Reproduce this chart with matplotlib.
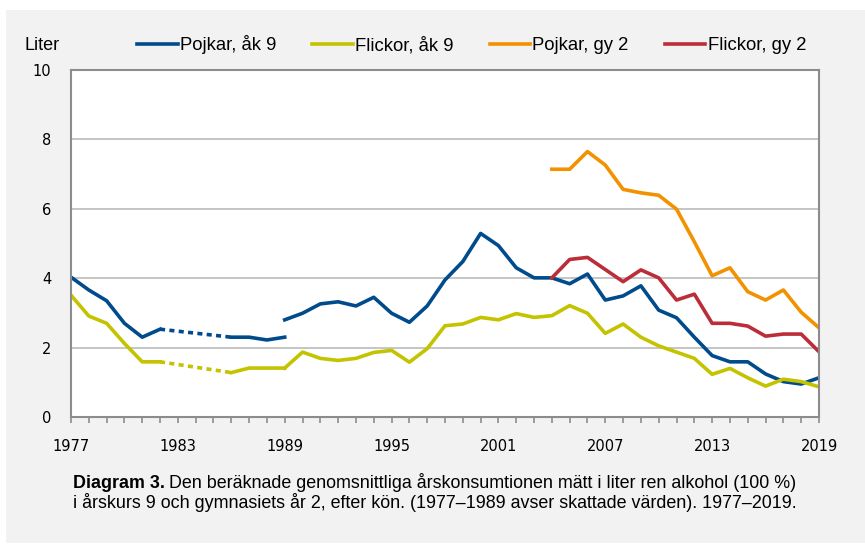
import numpy as np
import matplotlib
matplotlib.use('Agg')
import matplotlib.pyplot as plt
from matplotlib.patches import Rectangle

nan = np.nan

# === data (liter ren alkohol) ===
years_early = np.arange(1977, 1990)
boys9_early  = [4.03, 3.66, 3.35, 2.70, 2.30, 2.53, nan, nan, nan, 2.30, 2.30, 2.22, 2.30]
girls9_early = [3.51, 2.91, 2.70, 2.12, 1.59, 1.59, nan, nan, nan, 1.28, 1.41, 1.41, 1.41]

years_late = np.arange(1989, 2020)
boys9_late = [2.80, 2.99, 3.26, 3.32, 3.20, 3.45, 2.99, 2.73, 3.20, 3.95, 4.48, 5.29, 4.94, 4.30,
              4.01, 4.01, 3.84, 4.12, 3.37, 3.49, 3.78, 3.08, 2.86, 2.30, 1.77, 1.59, 1.59, 1.24,
              1.02, 0.95, 1.13]
girls9_late = [1.41, 1.87, 1.69, 1.63, 1.69, 1.86, 1.92, 1.58, 1.97, 2.63, 2.68, 2.87, 2.80, 2.98,
               2.87, 2.92, 3.21, 2.99, 2.41, 2.68, 2.30, 2.05, 1.87, 1.69, 1.23, 1.40, 1.13, 0.89,
               1.09, 1.02, 0.87]

years_gy2 = np.arange(2004, 2020)
boys_gy2  = [7.14, 7.14, 7.65, 7.26, 6.56, 6.46, 6.39, 5.99, 5.05, 4.07, 4.30, 3.61, 3.37, 3.66, 3.02, 2.57]
girls_gy2 = [4.01, 4.54, 4.60, 4.25, 3.90, 4.24, 4.01, 3.37, 3.54, 2.70, 2.70, 2.62, 2.33, 2.39, 2.39, 1.88]

labels = ['Pojkar, åk 9', 'Flickor, åk 9', 'Pojkar, gy 2', 'Flickor, gy 2']
xtick_years = np.arange(1977, 2020, 6)
ytick_vals = [0, 2, 4, 6, 8, 10]

c_blue = '#004b8c'
c_yell = '#c3c300'
c_orng = '#f39200'
c_red = '#bb2d38'
lw = 2.6
sans = ['Liberation Sans', 'DejaVu Sans']

# === figure ===
fig = plt.figure(figsize=(8.65, 5.48), dpi=100, facecolor='white')
fig.patches.append(Rectangle((6/865, 5/548), 1 - 6/865, 533/548, transform=fig.transFigure,
                             facecolor='#f2f2f2', edgecolor='none', zorder=-10))
ax = fig.add_axes([71/865, 131/548, 748/865, 347/548])
ax.set_facecolor('white')

# dotted gap (estimated years) between 1982 and 1986
e = np.array(years_early)
b = np.array(boys9_early)
g = np.array(girls9_early)
gap = [5, 9]
ax.plot(e[gap], b[gap], color=c_blue, lw=lw, dashes=(1.4, 1.2), solid_capstyle='butt')
ax.plot(e[gap], g[gap], color=c_yell, lw=lw, dashes=(1.4, 1.2), solid_capstyle='butt')

l1, = ax.plot(years_early, boys9_early, color=c_blue, lw=lw)
ax.plot(years_late, boys9_late, color=c_blue, lw=lw)
l2, = ax.plot(years_early, girls9_early, color=c_yell, lw=lw)
ax.plot(years_late, girls9_late, color=c_yell, lw=lw)
l3, = ax.plot(years_gy2, boys_gy2, color=c_orng, lw=lw)
l4, = ax.plot(years_gy2, girls_gy2, color=c_red, lw=lw)

ax.set_xlim(1977, 2019)
ax.set_ylim(0, 10)
ax.set_yticks(ytick_vals)
ax.set_xticks(xtick_years)
ax.set_xticks(np.arange(1977, 2020), minor=True)
ax.yaxis.grid(True, color='#c0c0c0', lw=1.3)
ax.set_axisbelow(True)
for s in ax.spines.values():
    s.set_color('#8c8c8c')
    s.set_linewidth(1.5)
ax.tick_params(axis='y', length=0, pad=14, labelsize=10.5, labelcolor='black')
ax.tick_params(axis='x', which='both', direction='out', length=4, width=1.2, color='#8c8c8c',
               pad=12, labelsize=10.5)
for t in ax.get_xticklabels() + ax.get_yticklabels():
    t.set_family('DejaVu Sans')

# legend + unit
leg = fig.legend([l1, l2, l3, l4], labels, loc='center left', bbox_to_anchor=(137/865, 1 - 45/548),
                 ncol=4, frameon=False, handlelength=2.2, handletextpad=0.12, columnspacing=1.95,
                 borderpad=0, borderaxespad=0, prop={'family': sans, 'size': 13.3})
fig.text(25/865, 1 - 45/548, 'Liter', family=sans, fontsize=13, va='center', ha='left')

# caption
y1 = 1 - 483/548
y2 = 1 - 503/548
x0 = 73/865
tb = fig.text(x0, y1, 'Diagram 3.', family=sans, fontsize=12.9, weight='bold', va='center')
fig.canvas.draw()
bb = tb.get_window_extent().transformed(fig.transFigure.inverted())
fig.text(bb.x1 + 4/865, y1, 'Den beräknade genomsnittliga årskonsumtionen mätt i liter ren alkohol (100 %)',
         family=sans, fontsize=12.9, va='center')
fig.text(x0, y2, 'i årskurs 9 och gymnasiets år 2, efter kön. (1977–1989 avser skattade värden). 1977–2019.',
         family=sans, fontsize=12.9, va='center')

fig.savefig('out.png', dpi=100, facecolor='white')
